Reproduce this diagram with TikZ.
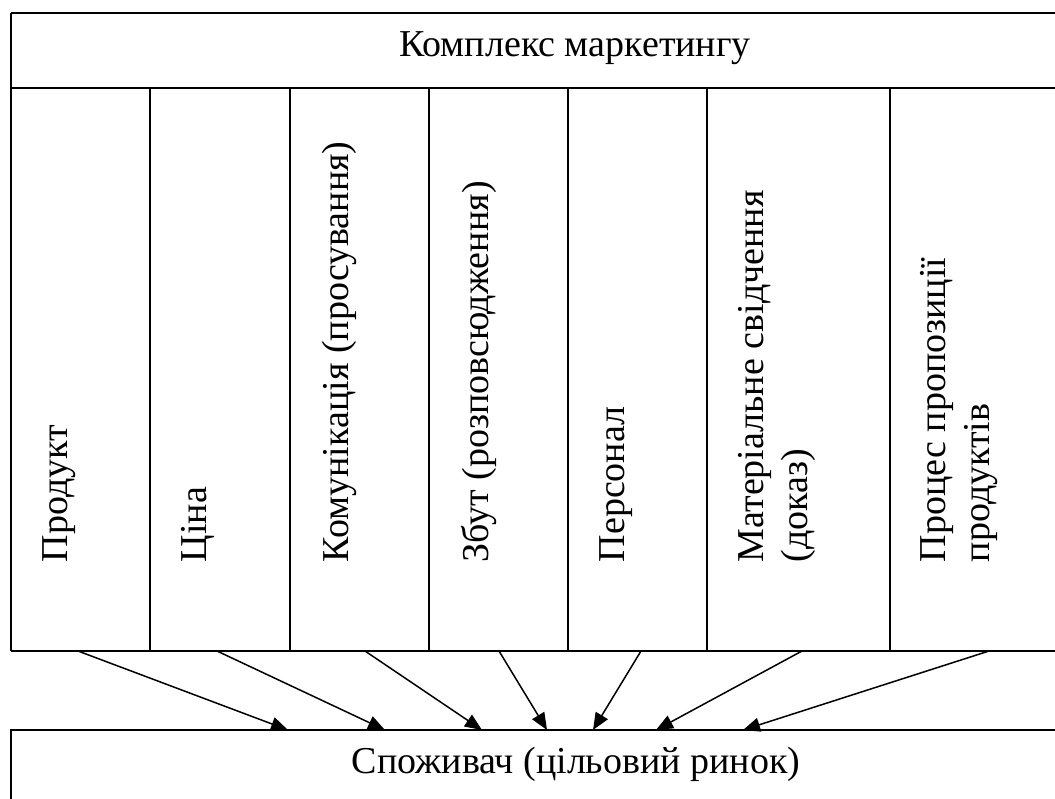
\documentclass[tikz,border=0pt]{standalone}
\usepackage{fontspec}
\setmainfont{Liberation Serif}
\usetikzlibrary{arrows.meta}
\tikzset{
  colname/.style={rotate=90,anchor=north west,align=left,inner sep=0pt},
  toarrow/.style={-{Triangle[length=17pt,width=14pt]},line width=1.5pt}
}

\begin{document}
\begin{tikzpicture}[x=1pt,y=-1pt,line width=1.6pt,font=\fontsize{38}{44}\selectfont]
\clip (0,0) rectangle (1055,798);
% top box
\draw[line width=2.4pt] (11,13)--(1062,13);
\draw (11,13)--(11,651);
\draw (11,88)--(1062,88);
\draw (11,651)--(1062,651);
\node (title) at (575,48) {Комплекс маркетингу};
% columns
\draw (150,88)--(150,651);
\draw (290,88)--(290,651);
\draw (429,88)--(429,651);
\draw (568,88)--(568,651);
\draw (707,88)--(707,651);
\draw (890,88)--(890,651);
\node[colname] (product) at (42,563) {Продукт};
\node[colname] (price) at (181,563) {Ціна};
\node[colname] (promo) at (321,563) {Комунікація (просування)};
\node[colname] (place) at (460,563) {Збут (розповсюдження)};
\node[colname] (people) at (599,563) {Персонал};
\node[colname] (evidence) at (738,563) {Матеріальне свідчення\\(доказ)};
\node[colname] (process) at (920,563) {Процес пропозиції\\продуктів};
% bottom box
\draw (11,805)--(11,730)--(1062,730);
\node (consumer) at (576,764) {Споживач (цільовий ринок)};
% arrows
\coordinate (s1) at (78,651);  \coordinate (t1) at (288,730);
\coordinate (s2) at (217,651); \coordinate (t2) at (385,730);
\coordinate (s3) at (365,651); \coordinate (t3) at (482,730);
\coordinate (s4) at (499,651); \coordinate (t4) at (547,730);
\coordinate (s5) at (641,651); \coordinate (t5) at (593,730);
\coordinate (s6) at (802,651); \coordinate (t6) at (656,730);
\coordinate (s7) at (989,651); \coordinate (t7) at (743,730);
\draw[toarrow] (s1)--(t1);
\draw[toarrow] (s2)--(t2);
\draw[toarrow] (s3)--(t3);
\draw[toarrow] (s4)--(t4);
\draw[toarrow] (s5)--(t5);
\draw[toarrow] (s6)--(t6);
\draw[toarrow] (s7)--(t7);
\end{tikzpicture}
\end{document}
